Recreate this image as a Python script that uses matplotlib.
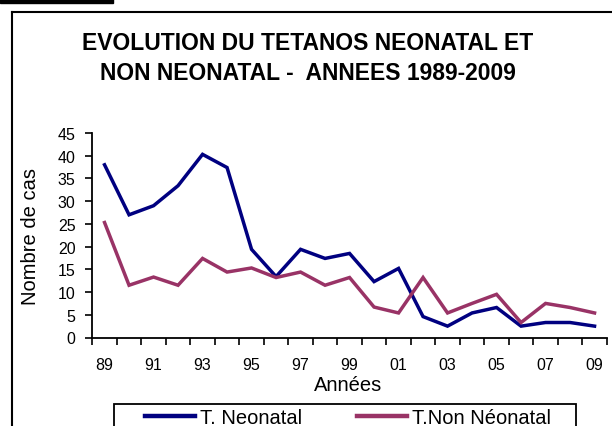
import matplotlib
matplotlib.use("Agg")
import matplotlib.pyplot as plt
from matplotlib.lines import Line2D
from matplotlib.patches import Rectangle

plt.rcParams['font.family'] = ['Liberation Sans', 'DejaVu Sans']

years = ['89', '90', '91', '92', '93', '94', '95', '96', '97', '98', '99',
         '00', '01', '02', '03', '04', '05', '06', '07', '08', '09']
neonatal = [38, 27, 29, 33.4, 40.3, 37.4, 19.4, 13.4, 19.4, 17.4, 18.5,
            12.3, 15.2, 4.6, 2.5, 5.4, 6.6, 2.5, 3.3, 3.3, 2.5]
non_neonatal = [25.3, 11.5, 13.3, 11.5, 17.4, 14.4, 15.3, 13.2, 14.4, 11.5, 13.2,
                6.7, 5.4, 13.2, 5.4, 7.5, 9.5, 3.3, 7.5, 6.6, 5.4]
yticks = [0, 5, 10, 15, 20, 25, 30, 35, 40, 45]

W, H = 612, 427
fig = plt.figure(figsize=(W / 100, H / 100), dpi=100)

# outer frame (left and top visible) and black bar
fig.add_artist(Line2D([12.3 / W, 12.3 / W], [0, 1 - 13.3 / H], color='black', lw=1.5,
                      transform=fig.transFigure))
fig.add_artist(Line2D([12.3 / W, 1], [1 - 13.3 / H, 1 - 13.3 / H], color='black', lw=1.5,
                      transform=fig.transFigure))
fig.add_artist(Rectangle((0, 1 - 4 / H), 113 / W, 4 / H, color='black',
                         transform=fig.transFigure))

left, right, top, bottom = 92.3, 606.8, 134.0, 338.5
ax = fig.add_axes([left / W, 1 - bottom / H, (right - left) / W, (bottom - top) / H])

x = list(range(len(years)))
l1, = ax.plot(x, neonatal, color='#000080', lw=2.5, solid_joinstyle='miter', label='T. Neonatal')
l2, = ax.plot(x, non_neonatal, color='#993366', lw=2.5, solid_joinstyle='miter', label='T.Non Néonatal')

ax.set_xlim(-0.5, len(years) - 0.5)
ax.set_ylim(0, 45)
ax.set_yticks(yticks)
ax.set_yticklabels([str(v) for v in yticks])
ax.set_xticks(x[::2])
ax.set_xticklabels(years[::2])
ax.set_xticks([i - 0.5 for i in range(len(years) + 1)], minor=True)
ax.tick_params(axis='x', which='major', length=0, pad=14, labelsize=11.5)
ax.tick_params(axis='x', which='minor', length=5, width=1.2, direction='out')
ax.tick_params(axis='y', length=5, width=1.2, pad=7, labelsize=11.5)

for s in ['top', 'right']:
    ax.spines[s].set_visible(False)
for s in ['left', 'bottom']:
    ax.spines[s].set_linewidth(1.3)

ax.set_ylabel('Nombre de cas', fontsize=14.5)
ax.yaxis.set_label_coords((40 - left) / (right - left), 0.5)

fig.text(348 / W, 1 - 386 / H, 'Années', ha='center', va='center', fontsize=14.5)

fig.text(308 / W, 1 - 58.9 / H, 'EVOLUTION DU TETANOS NEONATAL ET\nNON NEONATAL -  ANNEES 1989-2009',
         ha='center', va='center', fontsize=16.5, fontweight='bold', linespacing=1.4)

# legend frame (extends below the figure edge)
fig.add_artist(Rectangle((114 / W, -0.05), (576 - 114) / W, 1 - 405 / H + 0.05,
                         facecolor='white', edgecolor='black', lw=1.3,
                         transform=fig.transFigure, zorder=2))
leg = fig.legend(handles=[l1, l2], loc='upper left',
                 bbox_to_anchor=(145 / W, 1 - 409 / H),
                 ncol=2, fontsize=14.5, frameon=False,
                 handlelength=2.48, handletextpad=0.25,
                 borderpad=0, columnspacing=2.73, borderaxespad=0)
leg.set_zorder(3)
for h in leg.get_lines():
    h.set_linewidth(3.2)

fig.savefig('out.png', dpi=100)
